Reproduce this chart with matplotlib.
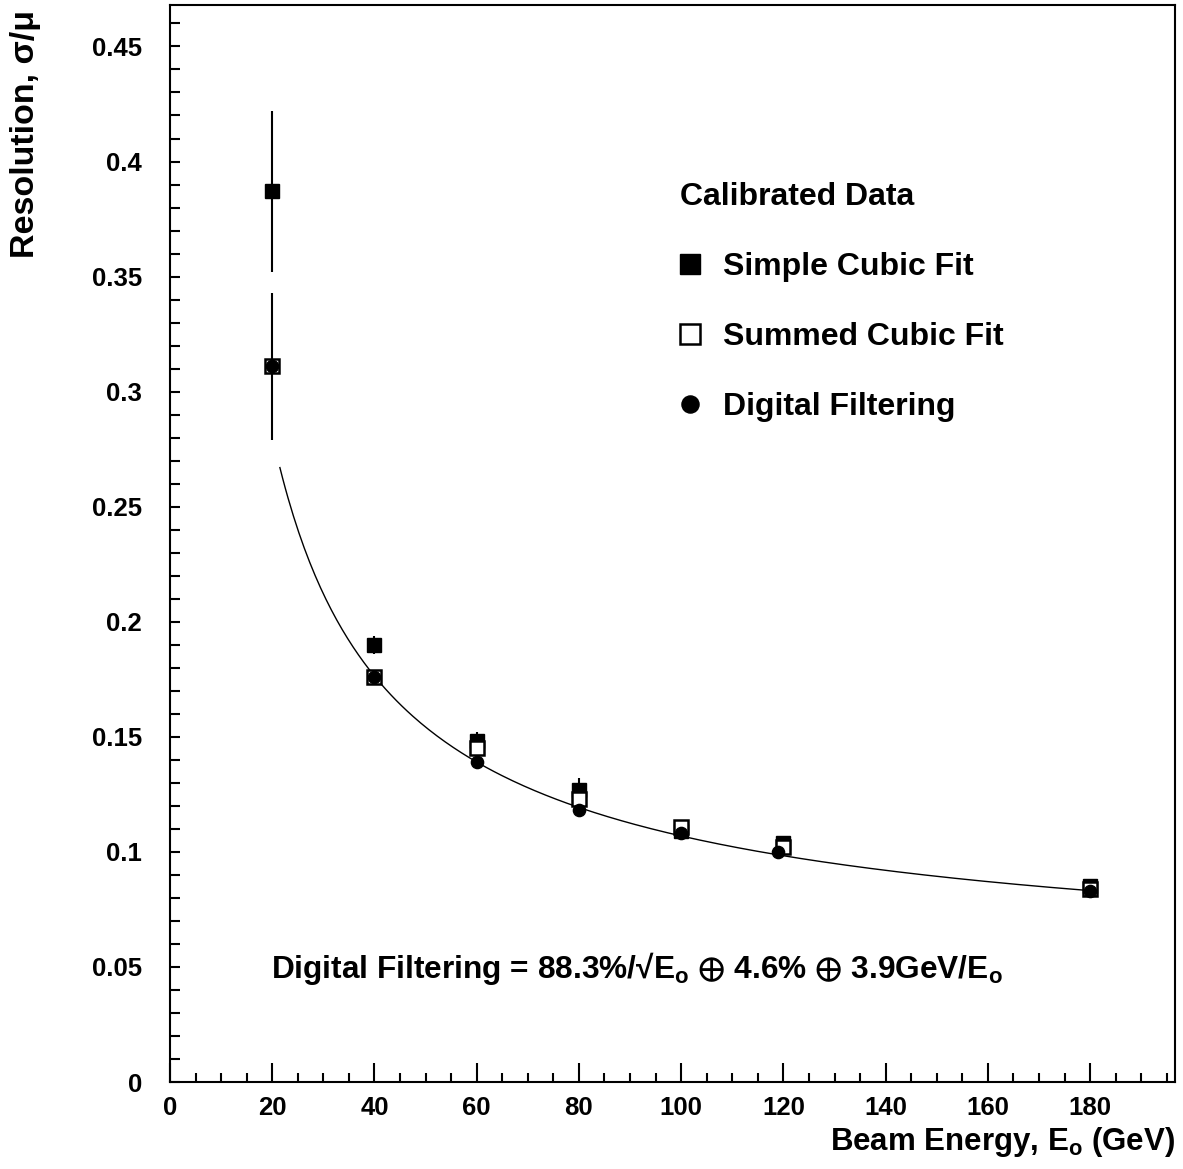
import numpy as np
import matplotlib
matplotlib.use('Agg')
import matplotlib.pyplot as plt
from matplotlib.ticker import MultipleLocator

plt.rcParams['font.family'] = ['Liberation Sans', 'DejaVu Sans']
plt.rcParams['font.weight'] = 'bold'
plt.rcParams['mathtext.fontset'] = 'custom'
plt.rcParams['mathtext.rm'] = 'Liberation Sans:bold'
plt.rcParams['mathtext.it'] = 'Liberation Sans:bold'
plt.rcParams['mathtext.bf'] = 'Liberation Sans:bold'
plt.rcParams['mathtext.fallback'] = 'stixsans'

# beam energies (GeV)
energy = [20, 40, 60, 80, 100, 120, 180]
energy_df = [20, 40, 60, 80, 100, 119, 180]

# resolution sigma/mu
simple_cubic = [0.387, 0.190, 0.148, 0.127, 0.109, 0.104, 0.085]
simple_err = [0.035, 0.004, 0.004, 0.005, 0.003, 0.003, 0.002]
summed_cubic = [0.311, 0.176, 0.145, 0.123, 0.111, 0.102, 0.084]
summed_err = [0.032, 0.003, 0.003, 0.003, 0.002, 0.002, 0.002]
digital_filt = [0.311, 0.176, 0.139, 0.118, 0.108, 0.100, 0.083]

# fit parameters: stochastic, constant, noise (GeV)
fit_a, fit_b, fit_c = 0.883, 0.046, 3.9

fig = plt.figure(figsize=(11.83, 11.69), dpi=100)
ax = fig.add_axes([0.1437, 0.0744, 0.8495, 0.9213])

e = np.linspace(21.5, 180, 300)
fit = np.sqrt((fit_a / np.sqrt(e))**2 + fit_b**2 + (fit_c / e)**2)
ax.plot(e, fit, color='black', lw=1.0, zorder=1)

eb1 = ax.errorbar(energy, simple_cubic, yerr=simple_err, fmt='s', color='black',
                  ms=10, elinewidth=1.5, capsize=0, zorder=2)
eb2 = ax.errorbar(energy, summed_cubic, yerr=summed_err, fmt='s', mfc='white', mec='black',
                  mew=1.8, color='black', ms=10, elinewidth=1.5, capsize=0, zorder=3)
df_line, = ax.plot(energy_df, digital_filt, 'o', color='black', ms=8.8, zorder=4)

ax.set_xlim(0, 196.6)
ax.set_ylim(0, 0.468)
ax.xaxis.set_major_locator(MultipleLocator(20))
ax.xaxis.set_minor_locator(MultipleLocator(5))
ax.yaxis.set_major_locator(MultipleLocator(0.05))
ax.yaxis.set_minor_locator(MultipleLocator(0.01))
ax.yaxis.set_major_formatter(plt.FuncFormatter(lambda v, p: ('%g' % round(v, 3))))

ax.tick_params(axis='x', which='major', direction='in', length=14, width=1.5,
               labelsize=18.5, pad=10, top=False)
ax.tick_params(axis='x', which='minor', direction='in', length=6.5, width=1.5, top=False)
ax.tick_params(axis='y', which='both', direction='in', length=7, width=1.5,
               labelsize=18.5, pad=20, right=False)
for s in ax.spines.values():
    s.set_linewidth(1.5)

ax.set_xlabel(r'Beam Energy, E$_\mathbf{o}$ (GeV)', fontsize=22.5, fontweight='bold')
ax.xaxis.set_label_coords(1.0, -0.040)
ax.xaxis.label.set_horizontalalignment('right')
ax.set_ylabel('Resolution, σ/μ', fontsize=24.5, fontweight='bold')
ax.yaxis.set_label_coords(-0.159, 0.995)
ax.yaxis.label.set_verticalalignment('top')
ax.yaxis.label.set_horizontalalignment('right')

leg = ax.legend([eb1[0], eb2[0], df_line],
                ['Simple Cubic Fit', 'Summed Cubic Fit', 'Digital Filtering'],
                loc='upper left', bbox_to_anchor=(0.479, 0.862), frameon=False,
                title='Calibrated Data', fontsize=23, markerscale=1.4,
                handlelength=0.6, handletextpad=0.75, labelspacing=1.25,
                alignment='left')
leg.get_title().set_fontsize(23)
leg.get_title().set_fontweight('bold')
for t in leg.get_texts():
    t.set_fontweight('bold')

ax.text(0.101, 0.105,
        r'Digital Filtering = 88.3%/√E$_\mathbf{o}$ $\oplus$ 4.6% $\oplus$ 3.9GeV/E$_\mathbf{o}$',
        transform=ax.transAxes, fontsize=22.8, ha='left', va='center')

fig.savefig('out.png', dpi=100)
